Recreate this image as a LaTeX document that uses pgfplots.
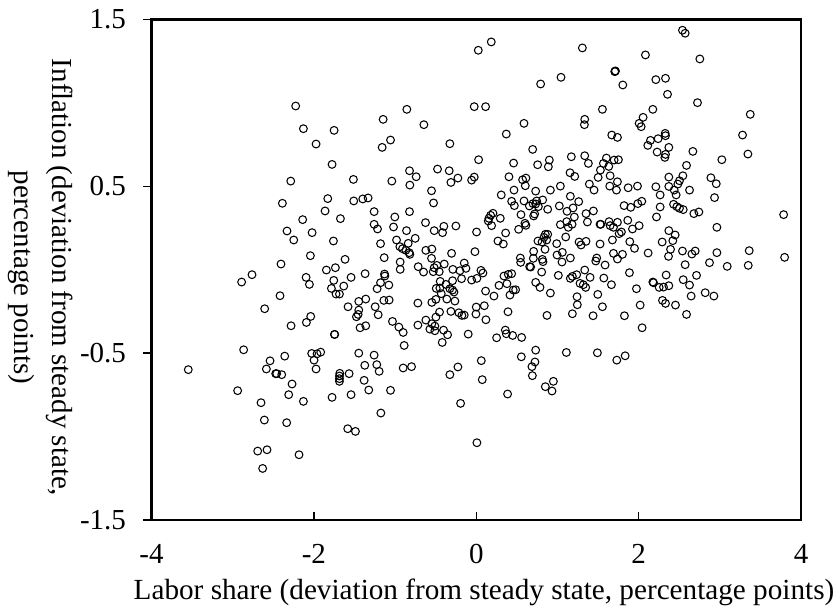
\documentclass[border=0pt]{standalone}
\usepackage{pgfplots}
\pgfplotsset{compat=1.18}
\usepackage{fontspec}
\setmainfont{Liberation Serif}
\begin{document}
\begin{tikzpicture}[x=1pt,y=1pt]
\path[use as bounding box] (-151.5,-92) rectangle (688.5,520);
\begin{axis}[at={(0,0)},anchor=south west,scale only axis,width=649.5pt,height=500.6pt,
 xmin=-4,xmax=4,ymin=-1.5,ymax=1.5,
 xtick={-4,-2,0,2,4},xticklabels={-4,-2,0,2,4},
 ytick={-1.5,-0.5,0.5,1.5},yticklabels={-1.5,-0.5,0.5,1.5},
 xtick pos=bottom,ytick pos=left,xtick align=inside,ytick align=outside,major tick length=8pt,
 every tick/.style={black,line width=1.4pt},axis line style={black,line width=2.6pt},
 tick label style={font=\fontsize{29}{33}\selectfont},
 xticklabel style={yshift=-21pt},yticklabel style={xshift=-14pt},
 clip=false]
\addplot[only marks,mark=o,mark size=3.9pt,mark options={line width=1.05pt,black,fill=none},black] coordinates {
(-2.224,.981)(-2.129,.845)(-1.751,.835)(-1.973,.753)(-1.776,.631)(-2.285,.531)(-1.513,.541)
(.185,1.365)(.025,1.315)(1.307,1.329)(1.044,1.153)(.793,1.113)(-.855,.961)(-1.147,.901)(-.645,.869)(-.025,.977)(.115,.977)(.588,.877)(.370,.813)(1.336,.901)(1.332,.869)(-1.056,.777)(-1.159,.733)(-.325,.755)(.695,.721)(.029,.659)(.460,.639)(.900,.657)(.756,.629)(.888,.617)(1.171,.677)(1.336,.683)(1.381,.637)(-.822,.593)(-.477,.603)(-.333,.593)(-.740,.557)(-1.040,.531)(-.818,.507)(-.312,.523)(-.226,.549)(-.025,.555)(-.057,.537)(.403,.557)(.571,.539)(.612,.549)(.604,.503)(1.155,.581)(1.213,.559)(1.036,.501)(.913,.477)(.465,.477)(.732,.471)(-.551,.473)(1.393,.513)
(2.540,1.435)(2.573,1.417)(2.084,1.287)(2.754,1.263)(1.710,1.189)(1.714,1.191)(1.706,1.187)(1.805,1.107)(2.212,1.139)(2.331,1.147)(2.356,1.051)(2.725,1.001)(1.554,.961)(2.175,.961)(3.375,.931)(2.055,.913)(2.006,.877)(2.031,.857)(1.669,.807)(1.739,.793)(2.327,.817)(2.331,.803)(2.240,.785)(2.146,.775)(2.113,.745)(3.280,.807)(2.372,.733)(2.228,.705)(2.668,.709)(3.346,.693)(3.025,.659)(2.331,.691)(2.323,.673)(2.590,.625)(1.603,.669)(1.698,.657)(1.751,.659)(1.566,.637)(1.632,.619)(1.529,.597)(1.501,.553)(1.649,.563)(2.372,.555)(2.545,.563)(2.503,.533)(2.483,.513)(2.890,.551)(2.956,.515)(1.739,.527)(1.644,.501)(1.871,.491)(1.986,.501)(2.212,.497)(2.372,.499)(1.727,.477)(1.451,.477)(2.627,.477)(2.438,.477)
(-2.388,.398)(-1.829,.426)(-1.509,.412)(-1.398,.424)(-1.332,.430)(-1.862,.352)(-2.138,.300)(-1.673,.306)(-2.331,.232)(-2.022,.222)(-2.248,.178)(-1.759,.172)(-2.043,.084)(-1.616,.062)(-2.405,.034)(-1.846,-.002)(-1.735,.012)(-1.369,-.024)(-2.762,-.030)(-2.890,-.074)(-2.096,-.046)(-1.542,-.046)(-1.755,-.064)(-2.055,-.088)(-1.632,-.098)(-1.784,-.112)(-1.727,-.146)(-1.685,-.146)(-2.417,-.156)(-1.361,-.176)(-1.447,-.190)(-1.579,-.222)(-2.606,-.234)(-1.447,-.242)(-1.455,-.268)(-1.476,-.282)(-2.039,-.280)(-2.092,-.316)(-2.281,-.336)(-1.361,-.336)(-1.431,-.348)(-1.747,-.388)(-1.743,-.388)(-2.865,-.480)(-2.359,-.518)(-1.447,-.500)(-2.027,-.502)(-1.961,-.504)(-1.916,-.494)(-1.998,-.542)(-2.540,-.546)
(-3.547,-.599)(-2.585,-.595)(-1.973,-.595)(-2.470,-.623)(-2.458,-.623)(-2.396,-.629)(-1.373,-.573)(-1.681,-.621)(-1.685,-.637)(-1.685,-.653)(-1.685,-.669)(-1.566,-.623)(-1.381,-.663)(-1.324,-.721)(-2.269,-.685)(-2.939,-.725)(-2.310,-.749)(-1.542,-.749)(-1.776,-.765)(-2.651,-.797)(-2.129,-.789)(-2.610,-.901)(-2.335,-.917)(-1.583,-.953)(-1.488,-.969)(-2.577,-1.079)(-2.692,-1.087)(-2.183,-1.109)(-2.631,-1.191)
(-1.225,-.569)(-1.196,-.609)(-.900,-.589)(-.797,-.581)(-.325,-.629)(-.226,-.583)(.074,-.659)(.062,-.545)(.686,-.581)(.723,-.553)(.691,-.635)(.950,-.669)(.851,-.701)(.933,-.727)(-1.056,-.723)(.386,-.745)(-.193,-.801)(-1.175,-.859)(.008,-1.037)
(-.526,.400)(.308,.448)(.436,.410)(.469,.384)(.588,.412)(.818,.418)(1.159,.440)(1.262,.408)(1.023,.382)(.699,.396)(.744,.412)(.654,.382)(.732,.394)(.765,.378)(.880,.362)(1.118,.350)(1.192,.370)(-1.258,.348)(-.822,.348)(-1.003,.316)(.551,.330)(.719,.334)(.707,.322)(.206,.338)(.177,.326)(.156,.308)(.148,.292)(.296,.308)(.189,.264)(1.208,.316)(1.352,.336)(1.369,.286)(1.114,.288)(1.036,.270)(1.180,.272)(1.134,.254)(.600,.278)(.612,.266)(.522,.242)(.362,.220)(-.625,.282)(-.399,.260)(-.251,.262)(-1.258,.272)(-1.216,.244)(-1.019,.256)(-.859,.234)(-.518,.234)(-.415,.222)(.004,.226)(-.752,.188)(-.982,.178)(-.838,.158)(-1.179,.156)(.267,.172)(.333,.154)(1.102,.196)(.880,.212)(.851,.212)(.834,.194)(.760,.172)(.810,.166)(.867,.178)(.991,.156)(1.266,.166)(1.291,.148)(1.352,.170)(-.941,.138)(-.908,.126)(-.867,.116)(-.826,.102)(-.818,.092)(-.621,.116)(-.547,.124)(-.304,.098)(-.016,.108)(.847,.122)(.707,.110)(1.060,.104)(.995,.088)(-1.134,.072)(-.551,.068)(1.159,.070)(.543,.070)(.703,.068)(.814,.062)(.547,.044)(.822,.048)(1.056,.046)(-.937,.046)(-.394,.034)(-.148,.040)(-.715,.018)(-.485,.026)(-.518,.012)(.658,.018)(.670,.016)(-.127,.008)(-.288,.002)(-.937,.002)(-.649,-.014)(-.530,-.012)(-.456,-.012)(-.201,-.006)(.058,-.004)(.082,-.020)(.806,-.014)(-1.130,-.026)(-1.126,-.038)(1.011,-.034)(1.336,-.002)(.341,-.038)(.395,-.028)(.436,-.024)(-.292,-.066)(-.181,-.054)(.008,-.052)(-.057,-.062)(1.237,-.030)(1.184,-.040)(1.159,-.052)(-.444,-.070)(-1.179,-.078)(-.374,-.088)(-1.077,-.092)(.378,-.084)(.280,-.094)(.732,-.076)(1.278,-.082)(1.319,-.090)(1.348,-.106)(.785,-.106)(-1.221,-.114)(-.493,-.112)(-.448,-.110)(-.325,-.114)(-.292,-.122)(-.275,-.134)(.456,-.122)(.485,-.120)(.115,-.128)(-.431,-.144)(.913,-.140)(.415,-.152)(.218,-.158)(1.241,-.162)(-.497,-.178)(-.362,-.176)(-.547,-.196)(-.263,-.188)(-1.073,-.182)(-1.138,-.184)(-.719,-.200)(-1.245,-.222)(.099,-.216)(0,-.224)(1.245,-.210)(-.452,-.254)(-.312,-.250)(.391,-.252)(-.214,-.258)(-.177,-.274)(-.148,-.272)(-.004,-.266)(1.184,-.264)(.871,-.274)(-1.208,-.270)(-.497,-.284)(-.621,-.302)(.119,-.300)(-1.032,-.310)(-.719,-.332)(-.547,-.324)(-.510,-.338)(-.953,-.344)(-.571,-.356)(-.510,-.366)(-.403,-.362)(-.900,-.376)(-.353,-.390)(-.099,-.386)(.358,-.362)(.370,-.384)(.448,-.394)(.251,-.408)(.559,-.406)(-.419,-.436)(-.888,-.454)(.732,-.482)(1.110,-.496)(-1.258,-.512)(.555,-.522)
(2.935,.432)(2.265,.448)(2.462,.448)(2.039,.410)(1.990,.396)(1.903,.374)(1.821,.384)(2.265,.376)(2.430,.392)(2.471,.378)(2.503,.368)(2.549,.360)(2.742,.346)(2.680,.336)(1.443,.352)(3.786,.330)(2.220,.316)(1.866,.296)(1.636,.288)(1.739,.284)(1.525,.272)(1.534,.272)(1.649,.264)(1.690,.254)(2.006,.264)(1.924,.244)(2.964,.254)(2.372,.234)(1.788,.226)(1.760,.216)(2.450,.208)(2.421,.174)(1.677,.178)(1.891,.168)(2.290,.166)(1.525,.154)(1.949,.128)(2.393,.122)(2.540,.112)(2.697,.112)(2.656,.094)(2.964,.102)(3.362,.114)(2.117,.100)(1.690,.098)(1.801,.092)(2.368,.080)(1.484,.070)(1.739,.064)(1.472,.052)(3.798,.074)(1.587,.028)(2.573,.030)(2.873,.042)(3.091,.020)(3.350,.026)(1.887,-.018)(2.339,-.032)(2.713,-.034)(1.571,-.050)(2.549,-.060)(2.175,-.074)(2.183,-.078)(1.665,-.090)(2.627,-.092)(2.372,-.096)(2.306,-.104)(2.253,-.106)(1.973,-.114)(1.497,-.148)(2.647,-.158)(2.820,-.138)(2.927,-.158)(2.294,-.184)(2.331,-.202)(2.454,-.212)(2.019,-.212)(1.554,-.222)(1.439,-.276)(1.825,-.276)(2.590,-.268)(2.043,-.348)(1.492,-.498)(1.834,-.516)(1.731,-.542)(1.402,-.046)
};
\end{axis}
\node[font=\fontsize{29.2}{33}\selectfont,anchor=base] at (332.5,-80) {Labor share (deviation from steady state, percentage points)};
\node[font=\fontsize{29}{38}\selectfont,rotate=-90,align=center,anchor=center] at (-110.5,242.5) {Inflation (deviation from steady state,\\percentage points)};
\end{tikzpicture}
\end{document}
